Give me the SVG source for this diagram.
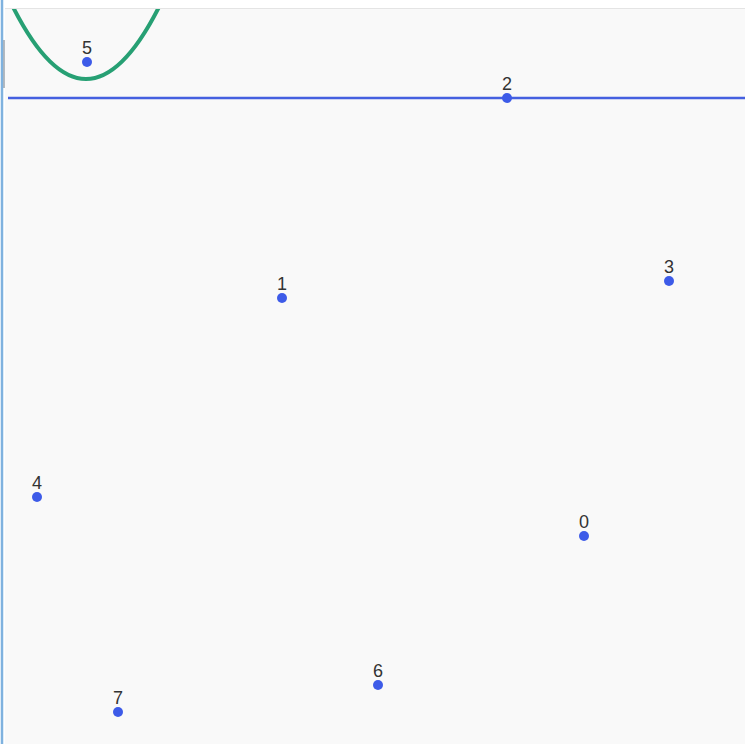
<svg xmlns="http://www.w3.org/2000/svg" width="745" height="744" viewBox="0 0 745 744">
<style>
.pt{fill:#3d5be8}
.lbl{font-family:"Liberation Sans",Arial,sans-serif;font-size:18px;fill:#333;text-anchor:middle}
</style>
<defs><clipPath id="plot"><rect x="5" y="9" width="740" height="735"/></clipPath></defs>
<rect x="0" y="0" width="745" height="744" fill="#f9f9f9"/>
<rect x="0" y="0" width="745" height="8" fill="#ffffff"/>
<line x1="0" y1="8.5" x2="745" y2="8.5" stroke="#e4e4e4" stroke-width="1"/>
<rect x="0" y="0" width="5" height="744" fill="#ffffff"/>
<line x1="2" y1="0" x2="2" y2="744" stroke="#7fb2df" stroke-width="2.5"/>
<line x1="4" y1="40" x2="4" y2="88" stroke="#9aa3ad" stroke-width="1.5"/>
<g id="connectors" clip-path="url(#plot)">
<path d="M 12 5 Q 86 153 160 5" fill="none" stroke="#27a074" stroke-width="4"/>
<line x1="8" y1="98" x2="745" y2="98" stroke="#4560e0" stroke-width="2.5"/>
</g>
<g id="n5"><circle class="pt" cx="87" cy="62" r="5"/><text class="lbl" x="87" y="54">5</text></g>
<g id="n2"><circle class="pt" cx="507" cy="98" r="5"/><text class="lbl" x="507" y="90">2</text></g>
<g id="n1"><circle class="pt" cx="282" cy="298" r="5"/><text class="lbl" x="282" y="290">1</text></g>
<g id="n3"><circle class="pt" cx="669" cy="281" r="5"/><text class="lbl" x="669" y="273">3</text></g>
<g id="n4"><circle class="pt" cx="37" cy="497" r="5"/><text class="lbl" x="37" y="489">4</text></g>
<g id="n0"><circle class="pt" cx="584" cy="536" r="5"/><text class="lbl" x="584" y="528">0</text></g>
<g id="n6"><circle class="pt" cx="378" cy="685" r="5"/><text class="lbl" x="378" y="677">6</text></g>
<g id="n7"><circle class="pt" cx="118" cy="712" r="5"/><text class="lbl" x="118" y="704">7</text></g>
</svg>
